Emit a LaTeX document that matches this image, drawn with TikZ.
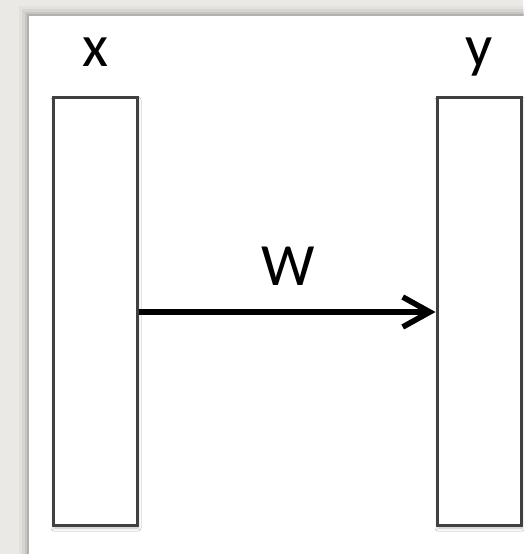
\documentclass[tikz,border=0pt]{standalone}
\usepackage{fontspec}
\setmainfont{Carlito}
\usetikzlibrary{arrows.meta,shadows.blur}
\definecolor{paper}{HTML}{EBE9E6}
\definecolor{edge}{HTML}{404040}
\tikzset{
  layer/.style={draw=edge, line width=3pt, fill=white,
    blur shadow={shadow xshift=1pt, shadow yshift=-3pt, shadow blur radius=3pt, shadow opacity=25}},
  lbl/.style={font=\fontsize{60}{60}\selectfont, inner sep=0pt},
  link/.style={line width=5.6pt, -{Straight Barb[length=27pt,width=30pt]}},
}
\begin{document}
\begin{tikzpicture}[x=1pt,y=-1pt]
  \useasboundingbox (0,0) rectangle (523,554);
  \fill[paper] (0,0) rectangle (523,554);
  % sheet with soft shadow
  \foreach \d/\o in {10/0.03,7/0.05,4/0.07,2/0.10}{
    \fill[black,opacity=\o] (29-\d,16-\d) rectangle (540,570);
  }
  \fill[white] (29,16) rectangle (540,570);
  % layers
  \node[layer, minimum width=84pt, minimum height=428pt, inner sep=0pt] (x) at (95,311) {};
  \node[layer, minimum width=84pt, minimum height=428pt, inner sep=0pt] (y) at (479,311) {};
  \node[lbl, anchor=base] (xl) at (95,66) {x};
  \node[lbl, anchor=base] (yl) at (479,66) {y};
  \draw[link] (x.east |- 0,312) -- (y.west |- 0,312);
  \node[lbl, anchor=base] (wl) at (288,285) {W};
\end{tikzpicture}
\end{document}
